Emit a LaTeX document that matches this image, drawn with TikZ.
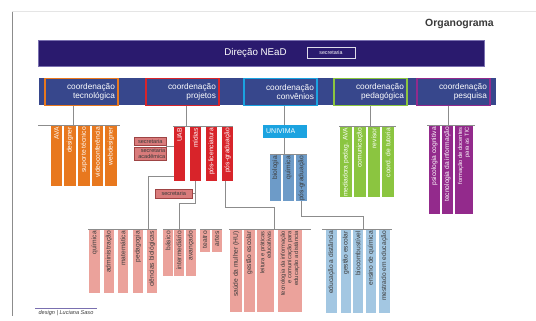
\documentclass[tikz,border=0pt]{standalone}
\usepackage{fontspec}
\setmainfont{Liberation Sans}
\definecolor{dirpurple}{HTML}{2A1A6E}
\definecolor{dirborder}{HTML}{7A70B0}
\definecolor{coordblue}{HTML}{37478C}
\definecolor{corange}{HTML}{E8781E}
\definecolor{cred}{HTML}{D8242A}
\definecolor{ccyan}{HTML}{1BA3E0}
\definecolor{cgreen}{HTML}{8BC540}
\definecolor{cpurple}{HTML}{932A8C}
\definecolor{salmon}{HTML}{EBA29B}
\definecolor{secfill}{HTML}{D97B7B}
\definecolor{secdraw}{HTML}{9E4444}
\definecolor{steel}{HTML}{6D9BC8}
\definecolor{lightblue}{HTML}{A3C7E2}
\definecolor{linegray}{HTML}{8C8C8C}
\definecolor{darktxt}{HTML}{3A3A3A}
\newcommand{\obar}[8]{%
  \node[barbox, fill=#6, minimum width=#4bp, minimum height=#5bp] (#1) at (#2,#3) {};
  \node[barlbl, text=#7] at ([yshift=-2bp]#1.north) {#8};}
\begin{document}
\begin{tikzpicture}[x=1bp,y=-1bp,
  conn/.style={draw=linegray, line width=0.7bp},
  barbox/.style={draw=none, inner sep=0, outer sep=0, anchor=north west},
  barlbl/.style={rotate=90, anchor=east, align=right, inner sep=0, font=\fontsize{6.7}{7}\selectfont},
  multi/.style={font=\fontsize{5.8}{6.6}\selectfont},
  coordbox/.style={draw=#1, line width=1.8bp, fill=coordblue, minimum height=27bp, anchor=north west,
    inner xsep=3bp, inner ysep=0, text width=67bp, text=white, align=right, font=\fontsize{8.3}{9}\selectfont},
  secbox/.style={draw=secdraw, line width=0.5bp, fill=secfill, inner sep=0, anchor=north west, text=darktxt,
    font=\fontsize{5.6}{6}\selectfont, align=right}
]
\useasboundingbox (0,0) rectangle (536,320);
\fill[white] (0,0) rectangle (536,320);
% frame lines
\draw[draw=black!10, line width=0.5bp] (12,11) -- (536,11);
\draw[draw=black!45, line width=0.7bp] (12,12) -- (12,316);
\node[anchor=east, text=darktxt, font=\bfseries\fontsize{10.5}{11}\selectfont, inner sep=0] (title) at (494,24) {Organograma};
% direction
\node[draw=dirborder, line width=0.5bp, fill=dirpurple, minimum width=446bp, minimum height=26bp, anchor=north west, inner sep=0] (dir) at (38,40) {};
\node[text=white, font=\fontsize{9.8}{10}\selectfont] (dirtxt) at (255.5,53) {Direção NEaD};
\node[draw=white!85!dirpurple, line width=0.5bp, minimum width=48bp, minimum height=11bp, inner sep=0, text=white, font=\fontsize{5.3}{6}\selectfont] (dirsec) at (331,52.5) {secretaria};
% coordination bar
\node[fill=coordblue, minimum width=457bp, minimum height=27bp, anchor=north west, inner sep=0] (cbar) at (39,77.5) {};
\node[coordbox=corange] (tec) at (44,77.5) {coordenação\\tecnológica};
\node[coordbox=cred] (proj) at (145,77.5) {coordenação\\projetos};
\node[coordbox=ccyan] (conv) at (243,77.5) {coordenação\\convênios};
\node[coordbox=cgreen] (ped) at (333,77.5) {coordenação\\pedagógica};
\node[coordbox=cpurple] (pes) at (416,77.5) {coordenação\\pesquisa};
% ---------- orange
\obar{ava}{51}{125}{11}{61}{corange}{white}{AVA}
\obar{des}{64}{125}{12}{61}{corange}{white}{designer}
\obar{sup}{78}{125}{12}{61}{corange}{white}{suporte técnico}
\obar{vid}{92}{125}{11}{61}{corange}{white}{videoconferência}
\obar{web}{105}{125}{12}{61}{corange}{white}{webdesigner}
\coordinate (ol) at (38,125); \coordinate (or) at (120,125); \coordinate (oj) at (73,125);
\draw[conn] (ol) -- (or);
\draw[conn] (tec.south -| oj) -- (oj);
% ---------- red
\obar{uab}{174}{126}{11}{55}{cred}{white}{UAB}
\obar{midias}{190}{126}{11}{55}{cred}{white}{mídias}
\obar{posl}{206}{126}{11}{55}{cred}{white}{pós-licenciatura}
\obar{posg}{222}{126}{11}{55}{cred}{white}{pós-graduação}
\coordinate (rl) at (173,126); \coordinate (rr) at (233,126); \coordinate (rj) at (186,126);
\draw[conn] (rl) -- (rr);
\draw[conn] (proj.south -| rj) -- (rj);
\node[secbox, minimum width=32bp, minimum height=8bp] (sec1) at (134,137) {secretaria};
\node[secbox, minimum width=32bp, minimum height=13bp, text width=30bp] (sec2) at (134,147) {secretaria\\acadêmica};
\coordinate (secj) at (166,146);
\draw[conn] (secj) -- (secj -| uab.west);
\node[secbox, minimum width=37bp, minimum height=9bp] (sec3) at (155,189) {secretaria};
% ---------- lower salmon groups
\obar{qui}{89}{229}{11}{64}{salmon}{darktxt}{química}
\obar{adm}{104}{229}{10}{64}{salmon}{darktxt}{administração}
\obar{mat}{118}{229}{10}{64}{salmon}{darktxt}{matemática}
\obar{ped2}{133}{229}{10}{64}{salmon}{darktxt}{pedagogia}
\obar{cbio}{147}{229}{10}{64}{salmon}{darktxt}{ciências biológicas}
\obar{bas}{163}{229}{10}{47}{salmon}{darktxt}{básico}
\obar{inter}{174}{229}{10}{47}{salmon}{darktxt}{intermediário}
\obar{avan}{186}{229}{10}{47}{salmon}{darktxt}{avançado}
\obar{tea}{200}{229}{10}{23}{salmon}{darktxt}{teatro}
\obar{art}{212}{229}{10}{23}{salmon}{darktxt}{artes}
\obar{sau}{230}{229}{12}{83}{salmon}{darktxt}{saúde da mulher (HU)}
\obar{gest}{244}{229}{11}{83}{salmon}{darktxt}{gestão escolar}
\obar{leit}{257}{229}{17}{83}{salmon}{darktxt,multi}{leitura e práticas\\educativas}
\obar{tic}{278}{229}{24}{83}{salmon}{darktxt,multi}{tecnologia da informação\\e comunicação para\\educação a distância}
\coordinate (gal) at (88,229); \coordinate (gar) at (157,229); \coordinate (gaj) at (148,229);
\coordinate (gbl) at (163,229); \coordinate (gbr) at (196,229); \coordinate (gbj) at (179,229);
\coordinate (gcl) at (200,229); \coordinate (gcr) at (222,229);
\coordinate (gdl) at (229,229); \coordinate (gdr) at (311,229); \coordinate (gdj) at (274,229);
\draw[conn] (gal) -- (gar);
\draw[conn] (gbl) -- (gbr);
\draw[conn] (gcl) -- (gcr);
\draw[conn] (gdl) -- (gdr);
\draw[conn] ([yshift=5bp]uab.south west) -| (gaj);
\draw[conn] (midias.south) -- ++(0,22) -| (gbj);
\draw[conn] (sec3.east) -- (sec3.east -| midias.south);
\draw[conn] ([xshift=-2.5bp]posg.south) -- ++(0,26) -| (gdj);
% ---------- blue
\node[fill=ccyan, minimum width=44bp, minimum height=13bp, anchor=north west, inner sep=0] (univ) at (263,125) {};
\node[anchor=west, text=white, font=\fontsize{7}{8}\selectfont, inner sep=0] (univt) at (266,131.5) {UNIVIMA};
\coordinate (cj) at (284,125);
\draw[conn] (conv.south -| cj) -- (cj);
\obar{bio}{270}{154}{11}{47}{steel}{darktxt}{biologia}
\obar{bqui}{283}{154}{11}{47}{steel}{darktxt}{química}
\obar{bposg}{296}{154}{11}{47}{steel}{darktxt}{pós-graduação}
\coordinate (bl) at (270,154); \coordinate (br) at (307,154); \coordinate (bj) at (284,154);
\draw[conn] (bl) -- (br);
\draw[conn] (univ.south -| bj) -- (bj);
\obar{edist}{326}{229}{11}{84}{lightblue}{darktxt}{educação a distância}
\obar{bgest}{341}{229}{10}{84}{lightblue}{darktxt}{gestão escolar}
\obar{bioc}{353}{229}{10}{84}{lightblue}{darktxt}{biocombustível}
\obar{ensq}{366}{229}{10}{84}{lightblue}{darktxt}{ensino de química}
\obar{mest}{379}{229}{11}{84}{lightblue}{darktxt}{mestrado em educação}
\coordinate (gel) at (322,229); \coordinate (ger) at (392,229); \coordinate (gej) at (363,229);
\draw[conn] (gel) -- (ger);
\draw[conn] (bposg.south) -- ++(0,15) -| (gej);
% ---------- green
\obar{med}{340}{126}{12}{71}{cgreen}{white}{mediadora pedag. AVA}
\obar{com}{354}{126}{12}{71}{cgreen}{white}{comunicação}
\obar{rev}{368}{126}{12}{71}{cgreen}{white}{revisor}
\obar{tut}{382}{126}{12}{71}{cgreen}{white}{coord. de tutoria}
\coordinate (grl) at (339,126); \coordinate (grr) at (396,126); \coordinate (grj) at (370,126);
\draw[conn] (grl) -- (grr);
\draw[conn] (ped.south -| grj) -- (grj);
% ---------- purple
\obar{psi}{429}{125}{11}{89}{cpurple}{white}{psicologia cognitiva}
\obar{ti}{442}{125}{11}{89}{cpurple}{white}{tecnologia da informação}
\obar{form}{455}{125}{18}{89}{cpurple}{white,multi}{formação de docentes\\para as TIC}
\coordinate (pl) at (427,125); \coordinate (pr) at (475,125); \coordinate (pj) at (448,125);
\draw[conn] (pl) -- (pr);
\draw[conn] (pes.south -| pj) -- (pj);
% signature
\draw[draw=dirborder, line width=0.6bp] (35,308.5) -- (97,308.5);
\node[text=darktxt, font=\itshape\fontsize{5.6}{6}\selectfont, inner sep=0] (sig) at (66,313.5) {design | Luciana Saso};
\end{tikzpicture}
\end{document}
